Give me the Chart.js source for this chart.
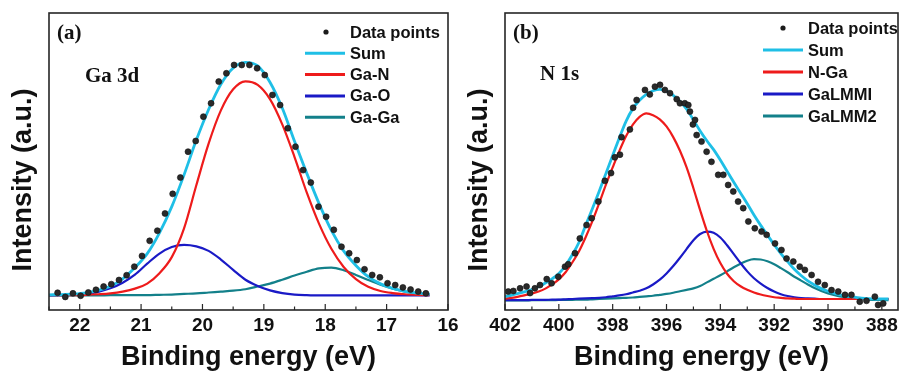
<!DOCTYPE html>
<html>
<head>
<meta charset="utf-8">
<script src="https://cdn.jsdelivr.net/npm/chart.js@4.4.1/dist/chart.umd.min.js"></script>
<style>
  html, body { margin: 0; padding: 0; background: #fff; }
  #wrap { position: relative; width: 903px; height: 378px; overflow: hidden; background: #fff; }
  canvas { position: absolute; top: 0; }
  #chartA { left: 0; width: 470px; height: 378px; }
  #chartB { left: 452px; width: 451px; height: 378px; }
</style>
</head>
<body>
<div id="wrap">
  <canvas id="chartA" width="470" height="378"></canvas>
  <canvas id="chartB" width="451" height="378"></canvas>
</div>
<script>
// (a) Ga 3d  -- fitted curves sampled every 0.2 eV
const energyA = [22.5, 22.3, 22.1, 21.9, 21.7, 21.5, 21.3, 21.1, 20.9, 20.7, 20.5, 20.3, 20.1, 19.9, 19.7, 19.5,
  19.3, 19.1, 18.9, 18.7, 18.5, 18.3, 18.1, 17.9, 17.7, 17.5, 17.3, 17.1, 16.9, 16.7, 16.5, 16.3];
const sumA = [5.1, 5.2, 5.4, 5.8, 6.6, 8.0, 10.5, 14.3, 19.0, 26.0, 34.8, 45.5, 57.2, 67.5, 76.0, 81.5,
  83.4, 82.2, 76.7, 68.0, 56.8, 46.0, 35.8, 26.8, 19.9, 15.0, 11.2, 8.8, 7.3, 6.3, 5.7, 5.3];
const gaN = [5.0, 5.0, 5.0, 5.1, 5.3, 5.6, 6.2, 7.2, 8.9, 12.4, 17.8, 27.5, 42.0, 56.0, 67.2, 74.3,
  77.0, 75.8, 71.0, 62.5, 51.5, 39.5, 29.0, 20.6, 14.5, 10.4, 7.8, 6.4, 5.7, 5.3, 5.1, 5.0];
const gaO = [4.9, 5.0, 5.1, 5.4, 6.1, 7.3, 9.2, 11.9, 15.6, 19.0, 21.2, 21.9, 21.4, 19.9, 17.0, 13.5,
  10.2, 8.1, 6.6, 5.7, 5.2, 5.0, 4.9, 4.9, 4.9, 4.9, 4.9, 4.9, 4.9, 4.9, 4.9, 4.9];
const gaGa = [4.9, 4.9, 4.9, 4.9, 4.9, 5.0, 5.0, 5.0, 5.0, 5.1, 5.2, 5.4, 5.6, 5.9, 6.2, 6.5,
  7.0, 7.9, 8.9, 10.2, 11.6, 12.9, 14.0, 14.3, 13.4, 11.8, 10.1, 8.5, 7.2, 6.2, 5.5, 5.1];
// measured points
const dotEnergyA = [22.36, 22.235, 22.11, 21.985, 21.86, 21.735, 21.61, 21.485, 21.36, 21.235, 21.11, 20.985,
  20.86, 20.735, 20.61, 20.485, 20.36, 20.235, 20.11, 19.985, 19.86, 19.735, 19.61, 19.485, 19.36, 19.235,
  19.11, 18.985, 18.86, 18.735, 18.61, 18.485, 18.36, 18.235, 18.11, 17.985, 17.86, 17.735, 17.61, 17.485,
  17.36, 17.235, 17.11, 16.985, 16.86, 16.735, 16.61, 16.485, 16.36];
const dotIntA = [5.8, 4.4, 5.6, 4.8, 5.9, 6.8, 7.9, 8.7, 10.1, 11.7, 14.6, 18.2,
  23.3, 26.7, 32.5, 39.1, 44.6, 53.3, 56.9, 65.1, 69.6, 76.9, 79.7, 82.5, 82.5, 82.5,
  81.4, 79.1, 72.4, 69.0, 61.2, 55.0, 47.1, 42.9, 34.8, 31.4, 27.0, 21.3, 19.1, 16.8,
  13.7, 11.8, 11.0, 9.0, 8.4, 7.6, 6.9, 6.2, 5.6];
const namesA = ['Data points', 'Sum', 'Ga-N', 'Ga-O', 'Ga-Ga'];

// (b) N 1s  -- fitted curves sampled every 0.25 eV
const energyB = [402, 401.75, 401.5, 401.25, 401, 400.75, 400.5, 400.25, 400, 399.75, 399.5, 399.25, 399, 398.75,
  398.5, 398.25, 398, 397.75, 397.5, 397.25, 397, 396.75, 396.5, 396.25, 396, 395.75, 395.5, 395.25, 395,
  394.75, 394.5, 394.25, 394, 393.75, 393.5, 393.25, 393, 392.75, 392.5, 392.25, 392, 391.75, 391.5, 391.25,
  391, 390.75, 390.5, 390.25, 390, 389.75, 389.5, 389.25, 389, 388.75, 388.5, 388.25, 388, 387.75];
const sumB = [4.5, 5.0, 5.6, 6.2, 6.9, 7.9, 9.1, 10.5, 12.3, 15.0, 18.6, 22.8, 28.6, 34.2,
  40.0, 46.0, 52.0, 58.0, 63.6, 67.8, 70.6, 72.6, 73.8, 74.3, 73.7, 72.3, 70.2, 67.6, 64.0,
  60.3, 57.0, 54.0, 50.5, 46.7, 43.0, 39.4, 35.8, 32.0, 28.5, 25.2, 22.0, 19.0, 16.3, 13.7,
  11.6, 9.8, 8.4, 7.2, 6.3, 5.6, 5.0, 4.6, 4.3, 4.0, 3.8, 3.7, 3.7, 3.7];
const nGa = [3.8, 4.1, 4.5, 5.0, 5.5, 6.2, 7.2, 8.6, 10.3, 12.7, 16.0, 19.8, 24.6, 30.0,
  36.0, 42.2, 48.0, 53.6, 58.6, 62.4, 65.0, 66.2, 65.6, 64.2, 61.8, 58.2, 53.6, 47.9, 41.0,
  33.6, 26.6, 20.6, 15.8, 12.2, 9.7, 8.0, 6.8, 5.9, 5.2, 4.7, 4.3, 4.1, 3.9, 3.8,
  3.7, 3.7, 3.7, 3.7, 3.7, 3.7, 3.7, 3.7, 3.7, 3.7, 3.7, 3.7, 3.7, 3.7];
const gaLMM1 = [3.3, 3.3, 3.3, 3.3, 3.4, 3.4, 3.4, 3.5, 3.5, 3.6, 3.7, 3.8, 3.9, 4.0,
  4.1, 4.3, 4.6, 4.9, 5.3, 5.9, 6.5, 7.3, 8.6, 10.2, 12.3, 14.8, 17.6, 20.6, 23.5,
  25.6, 26.4, 26.0, 24.4, 21.8, 18.8, 15.8, 13.0, 10.7, 8.9, 7.4, 6.2, 5.3, 4.7, 4.3,
  4.0, 3.9, 3.8, 3.7, 3.7, 3.7, 3.7, 3.7, 3.7, 3.7, 3.7, 3.7, 3.7, 3.7];
const gaLMM2 = [3.2, 3.2, 3.2, 3.2, 3.3, 3.3, 3.3, 3.3, 3.4, 3.4, 3.4, 3.5, 3.5, 3.6,
  3.7, 3.8, 3.9, 4.0, 4.1, 4.2, 4.4, 4.6, 4.8, 5.1, 5.4, 5.8, 6.3, 6.8, 7.3,
  8.1, 9.3, 10.5, 11.7, 13.0, 14.4, 15.6, 16.6, 17.1, 17.0, 16.4, 15.4, 14.1, 12.7, 11.2,
  9.9, 8.6, 7.4, 6.4, 5.6, 5.0, 4.5, 4.2, 3.9, 3.7, 3.5, 3.4, 3.4, 3.3];
const dotEnergyB = [401.88, 401.69, 401.44, 401.2, 401.07, 400.89, 400.7, 400.45, 400.27, 400.02, 399.77, 399.65,
  399.4, 399.22, 398.97, 398.78, 398.53, 398.29, 398.06, 397.92, 397.73, 397.67, 397.36, 397.24, 397.11,
  396.8, 396.62, 396.43, 396.24, 396.06, 395.87, 395.62, 395.5, 395.32, 395.19, 395.13, 395.02, 394.94,
  394.88, 394.7, 394.51, 394.33, 394.08, 393.89, 393.71, 393.52, 393.34, 393.15, 392.96, 392.72, 392.47,
  392.28, 391.97, 391.73, 391.54, 391.29, 391.05, 390.86, 390.61, 390.37, 390.12, 389.87, 389.62, 389.37,
  389.13, 388.82, 388.57, 388.26, 388.14, 387.95];
const dotIntB = [6.2, 6.4, 7.3, 7.9, 5.7, 7.3, 8.4, 10.4, 9.0, 11.2, 14.6, 15.4,
  19.1, 24.1, 28.6, 30.9, 36.5, 43.5, 46.1, 51.4, 52.3, 58.2, 60.8, 68.1, 70.7,
  74.1, 72.6, 75.2, 75.8, 74.1, 73.0, 71.0, 69.6, 69.6, 69.0, 66.8, 62.5, 64.0,
  58.9, 56.7, 53.3, 49.9, 45.5, 45.5, 42.1, 39.9, 36.5, 34.3, 29.8, 27.5, 26.4,
  25.3, 22.4, 20.2, 17.3, 16.3, 14.6, 13.5, 11.8, 9.5, 8.4, 6.7, 6.2, 5.1,
  5.1, 2.8, 3.1, 4.5, 1.7, 2.2];
const namesB = ['Data points', 'Sum', 'N-Ga', 'GaLMMI', 'GaLMM2'];

const SANS = "'Liberation Sans', Arial, Helvetica, sans-serif";
const SERIF = "'Liberation Serif', 'Times New Roman', serif";
const lineColors = ['#1fbfe6', '#ee1b1b', '#1a1ac6', '#13808a'];

function pairs(xs, ys) {
  return xs.map((x, i) => ({ x: x, y: ys[i] }));
}

// box, inward bottom ticks, y title, legend and panel labels
const decorPlugin = {
  id: 'decor',
  afterDraw(chart, args, o) {
    const { ctx, chartArea: a } = chart;
    const xs = chart.scales.x;
    ctx.save();
    ctx.strokeStyle = '#262626';
    ctx.lineWidth = 1.2;
    for (let v = o.tickFrom; v <= o.tickTo + 1e-9; v += o.minor) {
      const px = xs.getPixelForValue(v);
      const r = v / o.major;
      const len = Math.abs(r - Math.round(r)) < 1e-6 ? 6 : 3.5;
      ctx.beginPath();
      ctx.moveTo(px, a.bottom);
      ctx.lineTo(px, a.bottom - len);
      ctx.stroke();
    }
    ctx.lineWidth = 1.6;
    ctx.strokeRect(a.left, a.top, a.right - a.left, a.bottom - a.top);

    // y axis title, sits a bit below the middle of the box
    ctx.save();
    ctx.translate(o.yTitleX, 180);
    ctx.rotate(-Math.PI / 2);
    ctx.font = 'bold 27px ' + SANS;
    ctx.fillStyle = '#111';
    ctx.textAlign = 'center';
    ctx.textBaseline = 'middle';
    ctx.fillText('Intensity (a.u.)', 0, 0);
    ctx.restore();

    // legend
    const ds = chart.data.datasets;
    ctx.font = 'bold 16.5px ' + SANS;
    ctx.textBaseline = 'middle';
    ctx.textAlign = 'left';
    ds.forEach((d, i) => {
      const y = a.top + o.rowTop + i * o.rowStep;
      if (i === 0) {
        ctx.fillStyle = '#1b1b1b';
        ctx.beginPath();
        ctx.arc(a.right - o.dotX, y, 2.6, 0, Math.PI * 2);
        ctx.fill();
      } else {
        ctx.strokeStyle = d.borderColor;
        ctx.lineWidth = 3;
        ctx.beginPath();
        ctx.moveTo(a.right - o.lineX0, y);
        ctx.lineTo(a.right - o.lineX1, y);
        ctx.stroke();
      }
      ctx.fillStyle = '#111';
      ctx.fillText(d.label, a.right - o.textX, y + 1);
    });

    ctx.font = 'bold 21px ' + SERIF;
    ctx.fillStyle = '#111';
    ctx.fillText(o.tag, a.left + 8, 34);
    ctx.fillText(o.core, a.left + o.coreX, o.coreY);
    ctx.restore();
  }
};

function buildChart(id, p) {
  const curves = [p.sum, p.c1, p.c2, p.c3];
  const datasets = [{
    label: p.names[0],
    data: pairs(p.dotE, p.dotI),
    showLine: false,
    pointRadius: 3,
    pointBackgroundColor: '#2a2a2a',
    pointBorderColor: '#111',
    pointBorderWidth: 0.6
  }];
  curves.forEach((c, i) => {
    datasets.push({
      label: p.names[i + 1],
      data: pairs(p.curveE, c),
      showLine: true,
      borderColor: lineColors[i],
      borderWidth: i === 0 ? 2.8 : 2.2,
      pointRadius: 0,
      cubicInterpolationMode: 'monotone'
    });
  });

  return new Chart(document.getElementById(id), {
    type: 'scatter',
    data: { datasets: datasets },
    plugins: [decorPlugin],
    options: {
      responsive: false,
      animation: false,
      events: [],
      layout: { padding: { top: 13, right: p.padRight, left: 0, bottom: 0 } },
      plugins: {
        legend: { display: false },
        tooltip: { enabled: false },
        decor: p.decor
      },
      scales: {
        x: {
          type: 'linear',
          min: p.xMin,
          max: p.xMax,
          reverse: true,
          afterFit: s => { s.height = 68; },
          grid: { display: false, drawTicks: false },
          border: { display: false },
          ticks: {
            stepSize: p.step,
            includeBounds: false,
            autoSkip: false,
            maxRotation: 0,
            padding: 4,
            color: '#111',
            font: { family: SANS, size: 19, weight: 'bold' }
          },
          title: {
            display: true,
            text: 'Binding energy (eV)',
            color: '#111',
            font: { family: SANS, size: 27, weight: 'bold', lineHeight: 1 },
            padding: { top: 0, bottom: 7 }
          }
        },
        y: {
          min: 0,
          max: 100,
          afterFit: s => { s.width = p.yWidth; },
          grid: { display: false, drawTicks: false },
          border: { display: false },
          ticks: { display: false }
        }
      }
    }
  });
}

buildChart('chartA', {
  names: namesA, dotE: dotEnergyA, dotI: dotIntA, curveE: energyA,
  sum: sumA, c1: gaN, c2: gaO, c3: gaGa,
  xMin: 16, xMax: 22.5, step: 1, yWidth: 49, padRight: 22,
  decor: { tickFrom: 16, tickTo: 22.5, minor: 0.5, major: 1, yTitleX: 24,
    rowTop: 19, rowStep: 21.3, dotX: 122, lineX0: 143, lineX1: 103, textX: 98,
    tag: '(a)', core: 'Ga 3d', coreX: 36, coreY: 77 }
});

buildChart('chartB', {
  names: namesB, dotE: dotEnergyB, dotI: dotIntB, curveE: energyB,
  sum: sumB, c1: nGa, c2: gaLMM1, c3: gaLMM2,
  xMin: 387.4, xMax: 402, step: 2, yWidth: 53, padRight: 5,
  decor: { tickFrom: 388, tickTo: 402, minor: 1, major: 2, yTitleX: 28,
    rowTop: 15, rowStep: 22, dotX: 115, lineX0: 135, lineX1: 95, textX: 90,
    tag: '(b)', core: 'N 1s', coreX: 35, coreY: 75 }
});
</script>
</body>
</html>
